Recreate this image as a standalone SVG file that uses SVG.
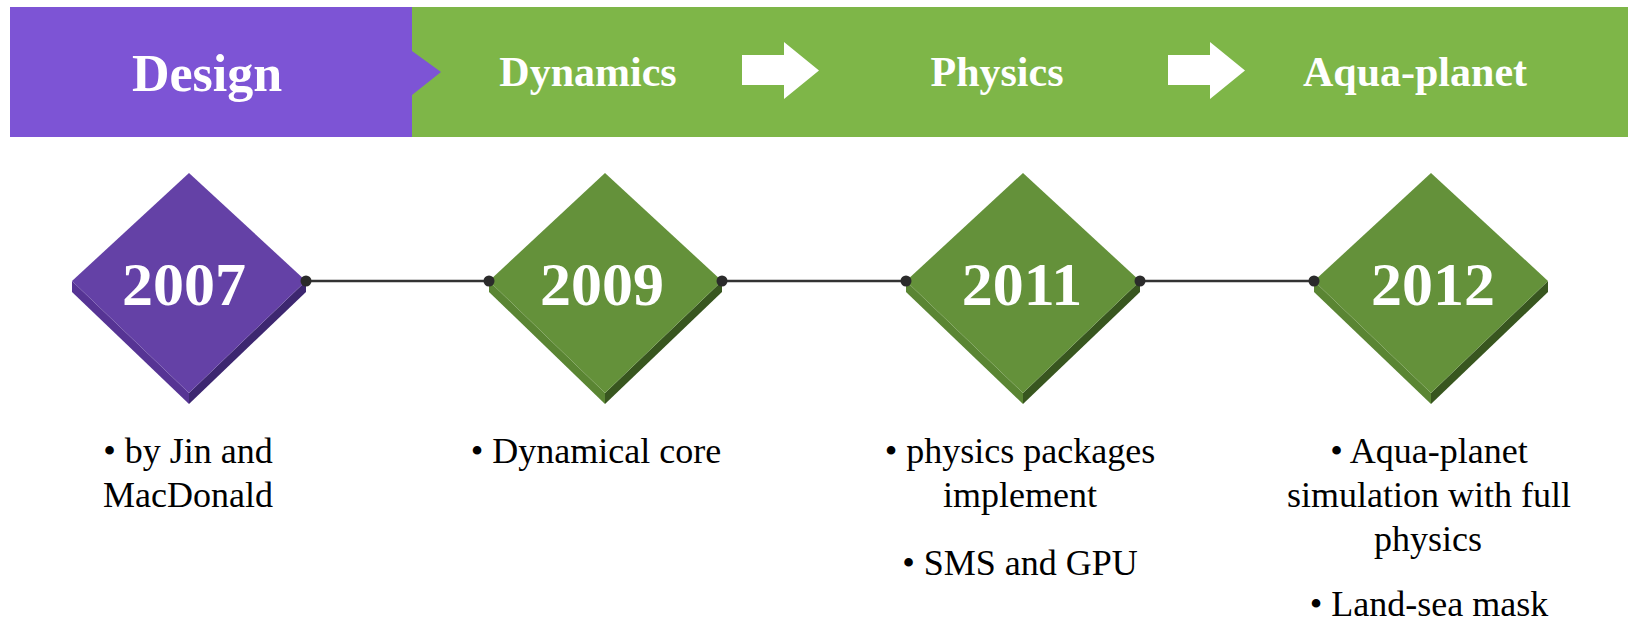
<svg xmlns="http://www.w3.org/2000/svg" width="1636" height="623" viewBox="0 0 1636 623">
<style>
.hdr{font-family:"Liberation Serif","Times New Roman",serif;font-weight:bold;fill:#fff;text-anchor:middle;}
.yr{font-family:"Liberation Serif","Times New Roman",serif;font-weight:bold;font-size:62px;fill:#fff;text-anchor:middle;}
.lbl{font-family:"Liberation Serif","Times New Roman",serif;font-size:36px;fill:#000;text-anchor:middle;}
.pface{fill:#6441A6;}
.pright{fill:#3D2770;}
.pleft{fill:#563494;}
.gface{fill:#64913A;}
.gright{fill:#38561F;}
.gleft{fill:#5A8533;}
.conn{stroke:#333;stroke-width:2.5;fill:none;}
.dot{fill:#2b2b2b;}
.arr{fill:#fff;}
</style>
<rect width="1636" height="623" fill="#fff"/>
<g id="banner">
  <rect x="412" y="7" width="1216" height="130" fill="#7EB648"/>
  <polygon points="10,7 412,7 412,51 441,72 412,95 412,137 10,137" fill="#7D54D5"/>
  <text class="hdr" x="207" y="91" font-size="52">Design</text>
  <text class="hdr" x="588" y="86" font-size="42">Dynamics</text>
  <text class="hdr" x="997" y="86" font-size="42">Physics</text>
  <text class="hdr" x="1415" y="86" font-size="42">Aqua-planet</text>
  <polygon class="arr" points="742,55 784,55 784,42 819,70.5 784,99 784,85 742,85"/>
  <polygon class="arr" points="1168,55 1210,55 1210,42 1245,70.5 1210,99 1210,85 1168,85"/>
</g>
<g id="node2007">
  <polygon class="pleft" points="72,281 72,292 189,404 189,393"/>
  <polygon class="pright" points="306,281 306,292 189,404 189,393"/>
  <polygon class="pface" points="189,173 306,281 189,393 72,281"/>
  <text class="yr" x="184" y="305">2007</text>
  <text class="lbl" x="188" y="463">• by Jin and</text>
  <text class="lbl" x="188" y="507">MacDonald</text>
</g>
<g id="node2009">
  <polygon class="gleft" points="489,281 489,292 605,404 605,393"/>
  <polygon class="gright" points="722,281 722,292 605,404 605,393"/>
  <polygon class="gface" points="605,173 722,281 605,393 489,281"/>
  <text class="yr" x="602" y="305">2009</text>
  <text class="lbl" x="596" y="463">• Dynamical core</text>
</g>
<g id="node2011">
  <polygon class="gleft" points="906,281 906,292 1023,404 1023,393"/>
  <polygon class="gright" points="1140,281 1140,292 1023,404 1023,393"/>
  <polygon class="gface" points="1023,173 1140,281 1023,393 906,281"/>
  <text class="yr" x="1022" y="305">2011</text>
  <text class="lbl" x="1020" y="463">• physics packages</text>
  <text class="lbl" x="1020" y="507">implement</text>
  <text class="lbl" x="1020" y="575">• SMS and GPU</text>
</g>
<g id="node2012">
  <polygon class="gleft" points="1314,281 1314,292 1431,404 1431,393"/>
  <polygon class="gright" points="1548,281 1548,292 1431,404 1431,393"/>
  <polygon class="gface" points="1431,173 1548,281 1431,393 1314,281"/>
  <text class="yr" x="1433" y="305">2012</text>
  <text class="lbl" x="1429" y="463">• Aqua-planet</text>
  <text class="lbl" x="1429" y="507">simulation with full</text>
  <text class="lbl" x="1428" y="551">physics</text>
  <text class="lbl" x="1429" y="616">• Land-sea mask</text>
</g>
<g id="connectors">
  <line class="conn" x1="306" y1="281" x2="489" y2="281"/>
  <line class="conn" x1="722" y1="281" x2="906" y2="281"/>
  <line class="conn" x1="1140" y1="281" x2="1314" y2="281"/>
  <circle class="dot" cx="306" cy="281" r="5.5"/>
  <circle class="dot" cx="489" cy="281" r="5.5"/>
  <circle class="dot" cx="722" cy="281" r="5.5"/>
  <circle class="dot" cx="906" cy="281" r="5.5"/>
  <circle class="dot" cx="1140" cy="281" r="5.5"/>
  <circle class="dot" cx="1314" cy="281" r="5.5"/>
</g>
</svg>
